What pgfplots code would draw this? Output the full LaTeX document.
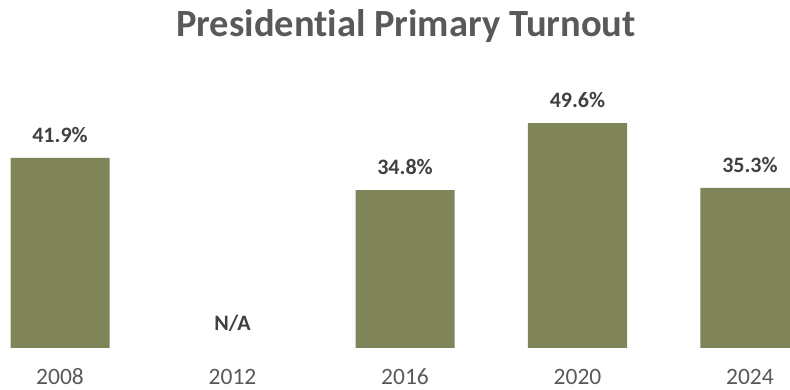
\documentclass[border=0pt]{standalone}
\usepackage{fontspec}
\setmainfont[Ligatures=NoCommon]{Carlito}
\usepackage{pgfplots}
\pgfplotsset{compat=1.18}
\definecolor{barolive}{RGB}{128,132,89}
\definecolor{titlegray}{RGB}{89,89,89}
\definecolor{labelgray}{RGB}{64,64,64}
\begin{document}
\begin{tikzpicture}[x=1pt,y=1pt]
\begin{axis}[
  at={(0pt,42pt)}, anchor=south west,
  scale only axis,
  width=790pt, height=272.1pt,
  xmin=-0.348, xmax=4.232,
  ymin=0, ymax=60,
  axis line style={draw=none},
  major tick length=0pt,
  ybar, bar width=0.574, bar shift=0pt,
  xtick={0,1,2,3,4},
  xticklabels={2008,2012,2016,2020,2024},
  ytick=\empty,
  xticklabel style={font=\fontsize{23.5}{23.5}\selectfont, text=titlegray, anchor=base, yshift=-37pt},
  point meta=explicit symbolic,
  nodes near coords={\pgfplotspointmeta},
  every node near coord/.append style={font=\bfseries\fontsize{22}{22}\selectfont, text=labelgray, anchor=base, yshift=15.5pt},
]
\addplot[fill=barolive, draw=none] coordinates {
  (0,41.9) [41.9\%]
  (2,34.8) [34.8\%]
  (3,49.6) [49.6\%]
  (4,35.3) [35.3\%]
};
\addplot[fill=none, draw=none, every node near coord/.append style={yshift=2pt}] coordinates {
  (1,0) [N/A]
};
\end{axis}
\node[anchor=base, font=\bfseries\fontsize{38.5}{38.5}\selectfont, text=titlegray] at (406pt,353pt) {Presidential Primary Turnout};
\pgfresetboundingbox
\useasboundingbox (0pt,0pt) rectangle (790pt,390pt);
\end{tikzpicture}
\end{document}
